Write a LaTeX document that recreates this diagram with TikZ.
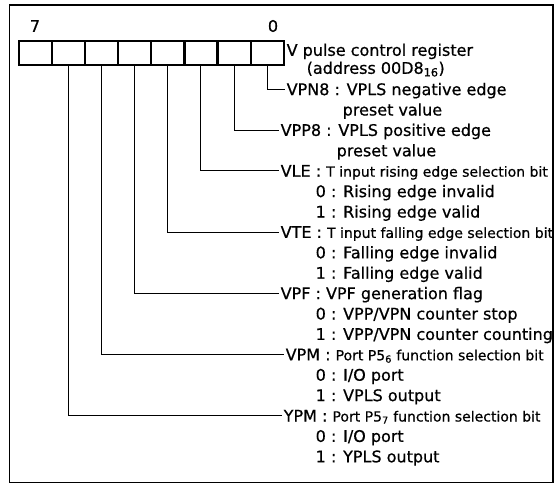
\documentclass[tikz,border=0pt]{standalone}
\usepackage{fontspec}
\setmainfont{DejaVu Sans}[FakeBold=0.6]
\begin{document}
\begin{tikzpicture}[x=1pt,y=-1pt,
  frame/.style={line width=1.6pt},
  cell/.style={draw, line width=2.2pt, minimum width=33.125pt, minimum height=24.5pt, inner sep=0pt, anchor=north west},
  lead/.style={line width=1pt},
  lab/.style={anchor=west, inner xsep=1.5pt, inner ysep=0pt, text height=11.6pt, text depth=0pt, font=\fontsize{16}{16}\selectfont},
  num/.style={inner sep=0pt, font=\fontsize{16}{16}\selectfont}]
\newcommand{\narrowtxt}[1]{{\fontsize{14}{14}\selectfont #1}}
\useasboundingbox (0,0) rectangle (559,485);
\draw[frame] (9.5,5) rectangle (553,482.5);
\foreach \i in {0,...,7} \node[cell] (c\i) at ({17.7+33.125*(7-\i)},39.5) {};
\node[num] (n7) at (35,26) {7};
\node[num] (n0) at (273,26) {0};
\node[lab] (title) at (285,50) {V pulse control register};
\node[lab] (addr) at (305,68) {(address 00D8\textsubscript{16})};
% bit 0
\node[lab] (l0) at (285,89.3) {VPN8 : VPLS negative edge};
\node[lab] (p0) at (341,109.7) {preset value};
% bit 1
\node[lab] (l1) at (279,130.1) {VPP8 : VPLS positive edge};
\node[lab] (p1) at (335,150.5) {preset value};
% bit 2
\node[lab] (l2) at (279,170.9) {VLE : \narrowtxt{T input rising edge selection bit}};
\node[lab] (a2) at (314,191.3) {0 : Rising edge invalid};
\node[lab] (b2) at (314,211.7) {1 : Rising edge valid};
% bit 3
\node[lab] (l3) at (279,232.1) {VTE : \narrowtxt{T input falling edge selection bit}};
\node[lab] (a3) at (314,252.5) {0 : Falling edge invalid};
\node[lab] (b3) at (314,272.9) {1 : Falling edge valid};
% bit 4
\node[lab] (l4) at (279,293.3) {VPF : VPF generation flag};
\node[lab] (a4) at (314,313.7) {0 : VPP/VPN counter stop};
\node[lab] (b4) at (314,334.1) {1 : VPP/VPN counter counting};
% bit 5
\node[lab] (l5) at (284,354.5) {VPM : \narrowtxt{Port P5\textsubscript{6} function selection bit}};
\node[lab] (a5) at (314,374.9) {0 : I/O port};
\node[lab] (b5) at (314,395.3) {1 : VPLS output};
% bit 6
\node[lab] (l6) at (282,415.7) {YPM : \narrowtxt{Port P5\textsubscript{7} function selection bit}};
\node[lab] (a6) at (314,436.1) {0 : I/O port};
\node[lab] (b6) at (314,456.5) {1 : YPLS output};
\foreach \i in {0,...,6} \draw[lead] (c\i.south) |- (l\i.west);
\end{tikzpicture}
\end{document}
